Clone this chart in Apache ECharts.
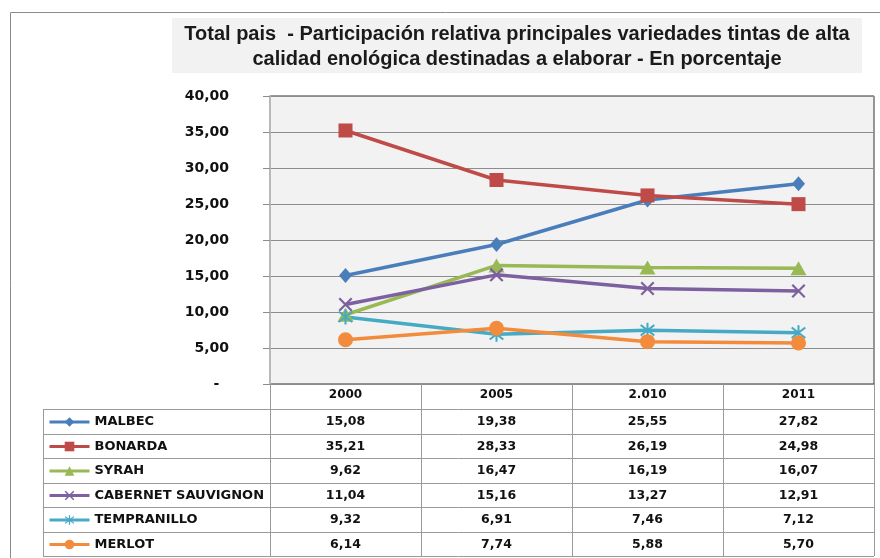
<!DOCTYPE html>
<html>
<head>
<meta charset="utf-8">
<script src="https://cdn.jsdelivr.net/npm/echarts@6/dist/echarts.min.js"></script>
<style>
  html, body { margin: 0; padding: 0; background: #fff; }
  #main { width: 880px; height: 558px; }
</style>
</head>
<body>
<div id="main"></div>
<script>
// datos
const years = ['2000', '2005', '2.010', '2011']
const malbec = [15.08, 19.38, 25.55, 27.82]
const bonarda = [35.21, 28.33, 26.19, 24.98]
const syrah = [9.62, 16.47, 16.19, 16.07]
const cabernet = [11.04, 15.16, 13.27, 12.91]
const tempranillo = [9.32, 6.91, 7.46, 7.12]
const merlot = [6.14, 7.74, 5.88, 5.70]
const yTicks = [0, 5, 10, 15, 20, 25, 30, 35, 40]

const names = ['MALBEC', 'BONARDA', 'SYRAH', 'CABERNET SAUVIGNON', 'TEMPRANILLO', 'MERLOT']
const values = [malbec, bonarda, syrah, cabernet, tempranillo, merlot]
const colors = ['#4a7ebb', '#be4b48', '#98b954', '#7d60a0', '#46aac5', '#f38b3c']

// X y asterisco de Excel como trazos rellenos
const xMark = 'path://M0,1.1 L1.1,0 L5,3.9 L8.9,0 L10,1.1 L6.1,5 L10,8.9 L8.9,10 L5,6.1 L1.1,10 L0,8.9 L3.9,5 Z'
const starMark = 'path://M4.4,0 L4.4,10 L5.6,10 L5.6,0 Z M0.6,1.95 L8.6,8.95 L9.4,8.05 L1.4,1.05 Z M8.6,1.05 L0.6,8.05 L1.4,8.95 L9.4,1.95 Z'
const symbols = ['diamond', 'rect', 'triangle', xMark, starMark, 'circle']
const symbolSizes = [[13, 15], 14, [16, 14], 14, 15, 15]

const fmt = (v) => v.toFixed(2).replace('.', ',')

const font = 'DejaVu Sans'
const grid = { left: 270, right: 6, top: 96, bottom: 174 }
const rowTop = 409
const rowH = 24.5
const tableLeft = 43
const tableRight = 874

const chart = echarts.init(document.getElementById('main'))

const series = names.map((n, i) => ({
  name: n,
  type: 'line',
  data: values[i],
  symbol: symbols[i],
  symbolSize: symbolSizes[i],
  showSymbol: true,
  lineStyle: { color: colors[i], width: 3.5 },
  itemStyle: { color: colors[i] },
  emphasis: { disabled: true },
}))

const option = {
  animation: false,
  title: {
    text: 'Total pais  - Participación relativa principales variedades tintas de alta\ncalidad enológica destinadas a elaborar - En porcentaje',
    left: 517,
    top: 22,
    padding: 0,
    textAlign: 'center',
    textStyle: {
      fontFamily: 'Liberation Sans',
      fontWeight: 'bold',
      fontSize: 20,
      lineHeight: 25,
      color: '#1a1a1a',
    },
  },
  legend: {
    orient: 'vertical',
    left: 48,
    top: 414,
    height: 150,
    padding: 0,
    itemWidth: 40,
    itemHeight: 12,
    itemGap: 8.5,
    selectedMode: false,
    data: names,
    lineStyle: { width: 3 },
    textStyle: { fontFamily: font, fontWeight: 'bold', fontSize: 13, lineHeight: 16, color: '#111' },
  },
  grid: {
    left: grid.left,
    right: grid.right,
    top: grid.top,
    bottom: grid.bottom,
    show: true,
    backgroundColor: '#f2f2f2',
    borderColor: '#333',
    borderWidth: 1,
  },
  xAxis: {
    type: 'category',
    data: years,
    boundaryGap: true,
    axisLine: { lineStyle: { color: '#8c8c8c', width: 1 } },
    axisTick: { show: true, alignWithLabel: false, length: 172, lineStyle: { color: '#9a9a9a' } },
    axisLabel: { margin: 5, fontFamily: font, fontWeight: 'bold', fontSize: 12, color: '#111' },
  },
  yAxis: {
    type: 'value',
    min: 0,
    max: 40,
    interval: 5,
    axisLine: { show: true, lineStyle: { color: '#b8b8b8', width: 2 } },
    axisTick: { show: true, length: 7, lineStyle: { color: '#8c8c8c' } },
    splitLine: { lineStyle: { color: '#8c8c8c', width: 1 } },
    axisLabel: {
      margin: 41,
      fontFamily: font,
      fontWeight: 'bold',
      fontSize: 14,
      color: '#111',
      formatter: (v) => (yTicks.indexOf(v) === 0 ? '-  ' : fmt(v)),
    },
  },
  series: series,
}
chart.setOption(option)

// tabla de datos debajo del gráfico
const graphics = []
graphics.push({
  type: 'rect', silent: true, z: -10,
  shape: { x: 172, y: 18, width: 690, height: 55 },
  style: { fill: '#f2f2f2' },
})
graphics.push({
  type: 'rect', silent: true, z: -10,
  shape: { x: 10.5, y: 12.5, width: 1000, height: 1000 },
  style: { fill: 'none', stroke: '#8c8c8c', lineWidth: 1 },
})
for (let r = 0; r <= names.length; r++) {
  const y = Math.round(rowTop + r * rowH) + 0.5
  graphics.push({
    type: 'line', silent: true,
    shape: { x1: tableLeft, y1: y, x2: tableRight, y2: y },
    style: { stroke: '#9a9a9a', lineWidth: 1 },
  })
}
graphics.push({
  type: 'line', silent: true,
  shape: { x1: tableLeft + 0.5, y1: rowTop, x2: tableLeft + 0.5, y2: rowTop + names.length * rowH },
  style: { stroke: '#9a9a9a', lineWidth: 1 },
})
values.forEach((arr, r) => {
  arr.forEach((v, c) => {
    const x = chart.convertToPixel({ xAxisIndex: 0 }, years[c])
    graphics.push({
      type: 'text', silent: true,
      x: x, y: rowTop + (r + 0.5) * rowH + 0.5,
      style: {
        text: fmt(v),
        align: 'center', verticalAlign: 'middle',
        font: 'bold 12.5px "' + font + '"',
        fill: '#111',
      },
    })
  })
})
chart.setOption({ graphic: graphics })
</script>
</body>
</html>
